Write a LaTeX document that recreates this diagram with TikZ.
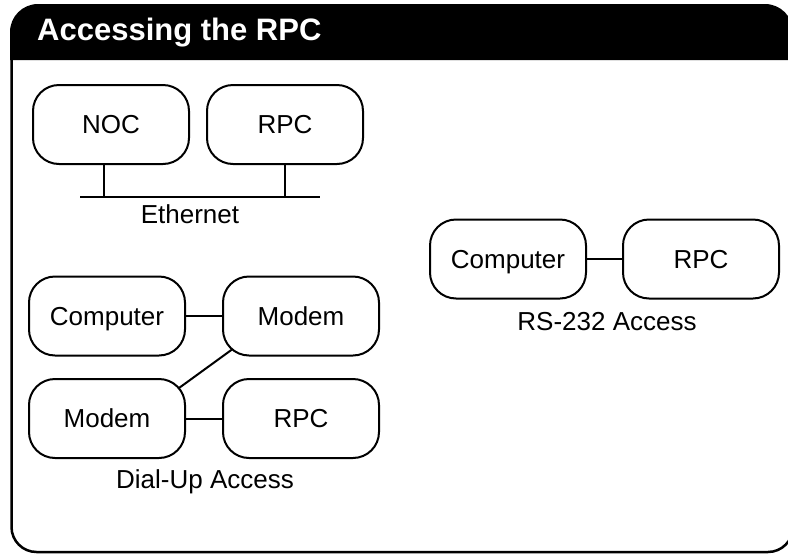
\documentclass[tikz,border=0pt]{standalone}
\usepackage{fontspec}
\setmainfont{Liberation Sans}
\usetikzlibrary{calc}

\tikzset{
  devbox/.style={draw, line width=2pt, rounded corners=26pt,
    minimum width=156pt, minimum height=79pt, inner sep=0pt,
    text height=18.6pt, text depth=0pt, font=\fontsize{26}{30}\selectfont},
  caption/.style={anchor=base, inner sep=0pt, font=\fontsize{26}{30}\selectfont},
  wire/.style={line width=2pt},
}

\begin{document}
\begin{tikzpicture}[x=1pt, y=-1pt]
  \useasboundingbox (0,0) rectangle (788,555);

  % panel outline and title bar
  \fill[rounded corners=28pt] (10,60) -- (10,4) -- (793,4) -- (793,60);
  \draw[line width=2.5pt, rounded corners=25pt] (11.5,58) -- (11.5,552) -- (793,552) -- (793,58);
  \node[anchor=base west, inner sep=0pt, text=white,
        font=\fontsize{31}{36}\selectfont\bfseries] (title) at (37,40) {Accessing the RPC};

  % Ethernet
  \node[devbox] (noc) at (111,124.5) {NOC};
  \node[devbox] (rpcA) at (285,124.5) {RPC};
  \coordinate (busL) at (80,197);
  \coordinate (busR) at (320,197);
  \coordinate (tapN) at (104,197);
  \coordinate (tapR) at (285,197);
  \draw[wire] (busL) -- (busR);
  \draw[wire] (noc.south -| tapN) -- (tapN);
  \draw[wire] (rpcA.south -| tapR) -- (tapR);
  \node[caption] (eth) at (190,223) {Ethernet};

  % Dial-up access
  \node[devbox] (pcB) at (107,316) {Computer};
  \node[devbox] (modemA) at (301,316) {Modem};
  \node[devbox] (modemB) at (107,418.5) {Modem};
  \node[devbox] (rpcB) at (301,418.5) {RPC};
  \draw[wire] (pcB.east) -- (modemA.west);
  \draw[wire] (modemB.east) -- (rpcB.west);
  \coordinate (dialA) at ($(modemA.south west)+(10,-7)$);
  \coordinate (dialB) at ($(modemB.north east)+(-7,10)$);
  \draw[wire] (dialA) -- (dialB);
  \node[caption] (dial) at (205,488) {Dial-Up Access};

  % RS-232 access
  \node[devbox] (pcC) at (508,259) {Computer};
  \node[devbox] (rpcC) at (701,259) {RPC};
  \draw[wire] (pcC.east) -- (rpcC.west);
  \node[caption] (serial) at (607,330) {RS-232 Access};
\end{tikzpicture}
\end{document}
